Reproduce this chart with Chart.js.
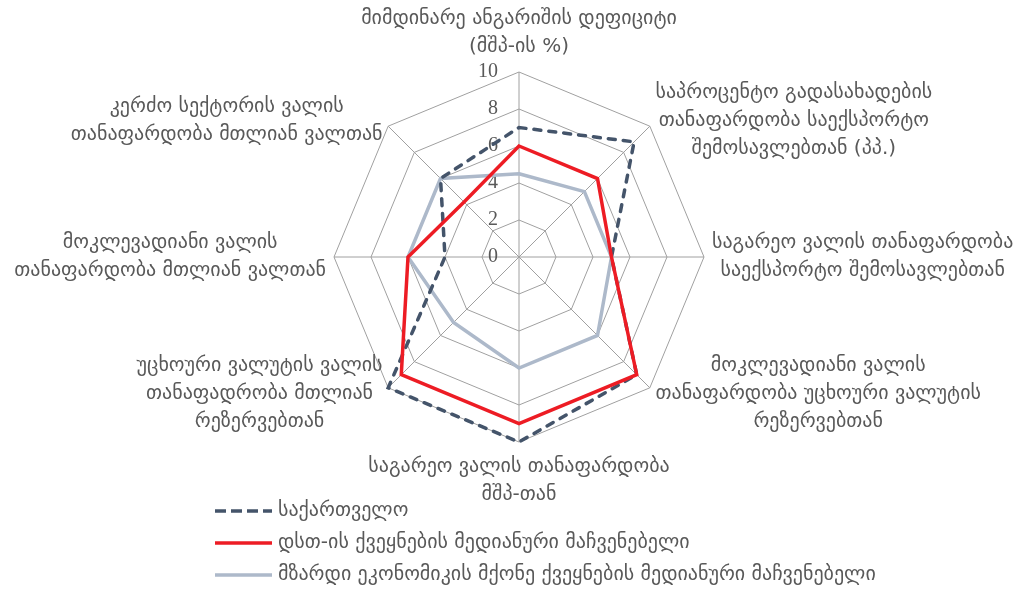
<!DOCTYPE html>
<html>
<head>
<meta charset="utf-8">
<script src="https://cdn.jsdelivr.net/npm/chart.js@4.4.1/dist/chart.umd.min.js"></script>
<style>
  html, body { margin: 0; padding: 0; background: #fff; }
  #wrap { position: relative; width: 1016px; height: 594px; }
</style>
</head>
<body>
<div id="wrap"><canvas id="radar"></canvas></div>
<script>
// axis names, one line per array entry
const axisLabels = [
  ['მიმდინარე ანგარიშის დეფიციტი', '(მშპ-ის %)'],
  ['საპროცენტო გადასახადების', 'თანაფარდობა საექსპორტო', 'შემოსავლებთან (პპ.)'],
  ['საგარეო ვალის თანაფარდობა', 'საექსპორტო შემოსავლებთან'],
  ['მოკლევადიანი ვალის', 'თანაფარდობა უცხოური ვალუტის', 'რეზერვებთან'],
  ['საგარეო ვალის თანაფარდობა', 'მშპ-თან'],
  ['უცხოური ვალუტის ვალის', 'თანაფადრობა მთლიან', 'რეზერვებთან'],
  ['მოკლევადიანი ვალის', 'თანაფარდობა მთლიან ვალთან'],
  ['კერძო სექტორის ვალის', 'თანაფარდობა მთლიან ვალთან']
];

const seriesNames = [
  'საქართველო',
  'დსთ-ის ქვეყნების მედიანური მაჩვენებელი',
  'მზარდი ეკონომიკის მქონე ქვეყნების მედიანური მაჩვენებელი'
];

const georgia = [7, 8.8, 5, 9, 10, 10, 4, 6];
const cisMedian = [6, 6, 5, 9, 9, 9, 6, 4.2];
const emergingMedian = [4.5, 5, 5, 6, 6, 5, 6, 6];

const tickValues = [0, 2, 4, 6, 8, 10];

const textColor = '#595959';
const gridColor = '#a0a0a0';
const colors = ['#44546a', '#ed1c24', '#adb9ca'];
const labelFont = '20px "DejaVu Sans"';
const lineH = 28;

// tick numbers sit just left of the vertical axis, under the lines
const tickPlugin = {
  id: 'tickText',
  beforeDatasetsDraw(chart) {
    const r = chart.scales.r;
    const ctx = chart.ctx;
    ctx.save();
    ctx.font = '20px "Liberation Serif"';
    ctx.fillStyle = textColor;
    ctx.textAlign = 'right';
    ctx.textBaseline = 'middle';
    tickValues.forEach(v => {
      const d = r.getDistanceFromCenterForValue(v);
      ctx.fillText(String(v), r.xCenter - 21, r.yCenter - d);
    });
    ctx.restore();
  }
};

// centred multi-line axis names plus the legend block
const textPlugin = {
  id: 'axisText',
  afterDraw(chart) {
    const r = chart.scales.r;
    const ctx = chart.ctx;
    ctx.save();
    ctx.font = labelFont;
    ctx.fillStyle = textColor;
    ctx.textAlign = 'center';
    ctx.textBaseline = 'middle';

    axisLabels.forEach((lines, i) => {
      const ang = r.getIndexAngle(i);
      const s = Math.sin(ang), c = Math.cos(ang);
      const vertical = Math.abs(s) < 0.01;
      const p = r.getPointPosition(i, r.drawingArea + (vertical ? 11 : 8));
      const w = Math.max(...lines.map(l => ctx.measureText(l).width));
      const h = lines.length * lineH;
      let cx = p.x;
      if (s > 0.01) cx = p.x + w / 2;
      else if (s < -0.01) cx = p.x - w / 2;
      let top = p.y - h / 2;
      if (vertical) top = c > 0 ? p.y - h : p.y;
      lines.forEach((l, k) => ctx.fillText(l, cx, top + lineH * (k + 0.5)));
    });

    // legend
    ctx.textAlign = 'left';
    const lx = 215, ly = 511, step = 32;
    chart.data.datasets.forEach((ds, i) => {
      const y = ly + step * i;
      ctx.beginPath();
      ctx.strokeStyle = ds.borderColor;
      ctx.lineWidth = 3.5;
      ctx.setLineDash(ds.borderDash.length ? [11, 5] : []);
      ctx.moveTo(lx, y);
      ctx.lineTo(lx + 57, y);
      ctx.stroke();
      ctx.setLineDash([]);
      ctx.fillStyle = textColor;
      ctx.fillText(ds.label, lx + 63, y);
    });
    ctx.restore();
  }
};

new Chart(document.getElementById('radar'), {
  type: 'radar',
  data: {
    labels: axisLabels,
    datasets: [
      {
        label: seriesNames[0],
        data: georgia,
        borderColor: colors[0],
        borderWidth: 3.5,
        borderDash: [7, 8],
        borderCapStyle: 'round',
        pointRadius: 0,
        fill: false,
        order: 1
      },
      {
        label: seriesNames[1],
        data: cisMedian,
        borderColor: colors[1],
        borderWidth: 3.5,
        borderDash: [],
        pointRadius: 0,
        fill: false,
        order: 0
      },
      {
        label: seriesNames[2],
        data: emergingMedian,
        borderColor: colors[2],
        borderWidth: 3.5,
        borderDash: [],
        pointRadius: 0,
        fill: false,
        order: 2
      }
    ]
  },
  options: {
    responsive: true,
    maintainAspectRatio: false,
    animation: false,
    layout: { padding: { top: 72, bottom: 152, left: 334, right: 312 } },
    plugins: { legend: { display: false }, tooltip: { enabled: false } },
    elements: { line: { tension: 0, borderJoinStyle: 'miter' } },
    scales: {
      r: {
        min: 0,
        max: 10,
        ticks: { stepSize: 2, display: false },
        pointLabels: { display: false },
        grid: { color: gridColor, lineWidth: 1 },
        angleLines: { color: gridColor, lineWidth: 1 }
      }
    }
  },
  plugins: [tickPlugin, textPlugin]
});
</script>
</body>
</html>
